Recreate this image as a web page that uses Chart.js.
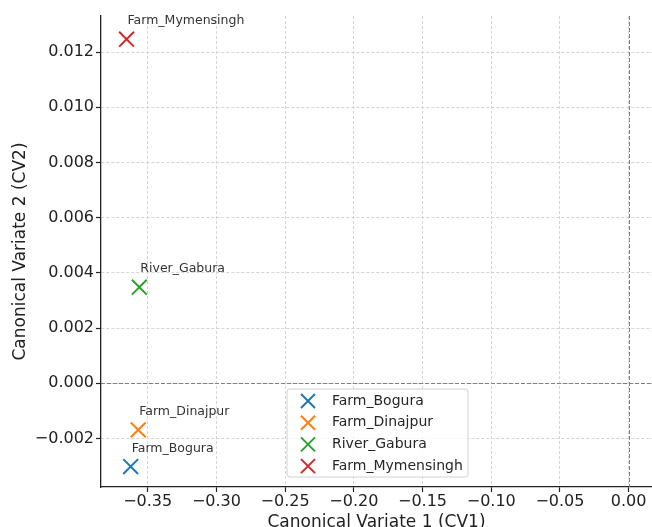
<!DOCTYPE html>
<html>
<head>
<meta charset="utf-8">
<script src="https://cdn.jsdelivr.net/npm/chart.js@4/dist/chart.umd.min.js"></script>
<style>
  html, body { margin: 0; padding: 0; background: #ffffff; }
  #wrap { width: 652px; height: 527px; }
</style>
</head>
<body>
<div id="wrap"><canvas id="c" width="652" height="527"></canvas></div>
<script>
// ---- data ----
const categories = ['Farm_Bogura', 'Farm_Dinajpur', 'River_Gabura', 'Farm_Mymensingh'];
const cv1Values = [-0.3624, -0.3569, -0.3561, -0.3654];
const cv2Values = [-0.00302, -0.00169, 0.00348, 0.01247];
const xTickValues = [-0.35, -0.30, -0.25, -0.20, -0.15, -0.10, -0.05, 0.00];
const yTickValues = [-0.002, 0.000, 0.002, 0.004, 0.006, 0.008, 0.010, 0.012];
const xAxisTitle = 'Canonical Variate 1 (CV1)';
const yAxisTitle = 'Canonical Variate 2 (CV2)';

// ---- styles ----
const seriesColors = ['#1f77b4', '#ff7f0e', '#2ca02c', '#d62728'];
const FONT = 'DejaVu Sans';
const fmt = (v, d) => (v < 0 ? '\u2212' : '') + Math.abs(v).toFixed(d);

const datasets = categories.map((name, i) => ({
  label: name,
  data: [{ x: cv1Values[i], y: cv2Values[i] }],
  pointStyle: 'crossRot',
  pointRadius: 10.5,
  pointHoverRadius: 10.5,
  borderWidth: 2,
  borderColor: seriesColors[i],
  backgroundColor: seriesColors[i]
}));

const overlay = {
  id: 'overlay',
  beforeDatasetsDraw(chart) {
    const { ctx, chartArea: a, scales: { x, y } } = chart;
    ctx.save();
    ctx.strokeStyle = '#808080';
    ctx.lineWidth = 1;
    ctx.setLineDash([4, 2]);
    const x0 = Math.round(x.getPixelForValue(0)) + 0.5;
    const y0 = Math.round(y.getPixelForValue(0)) + 0.5;
    ctx.beginPath();
    ctx.moveTo(x0, a.top); ctx.lineTo(x0, a.bottom);
    ctx.moveTo(a.left, y0); ctx.lineTo(a.right, y0);
    ctx.stroke();
    ctx.restore();
  },
  afterDatasetsDraw(chart) {
    const { ctx, scales: { x, y } } = chart;
    ctx.save();
    // point annotations
    ctx.font = '12.5px "' + FONT + '"';
    ctx.fillStyle = '#333333';
    ctx.textAlign = 'left';
    ctx.textBaseline = 'middle';
    categories.forEach((name, i) => {
      const px = x.getPixelForValue(cv1Values[i]);
      const py = y.getPixelForValue(cv2Values[i]);
      ctx.fillText(name, px + 1, py - 18);
    });
    // legend
    const bx = 287, by = 389, bw = 181, bh = 88, r = 3;
    ctx.beginPath();
    ctx.moveTo(bx + r, by);
    ctx.arcTo(bx + bw, by, bx + bw, by + bh, r);
    ctx.arcTo(bx + bw, by + bh, bx, by + bh, r);
    ctx.arcTo(bx, by + bh, bx, by, r);
    ctx.arcTo(bx, by, bx + bw, by, r);
    ctx.closePath();
    ctx.fillStyle = 'rgba(255,255,255,0.8)';
    ctx.fill();
    ctx.strokeStyle = '#d0d0d0';
    ctx.lineWidth = 1;
    ctx.stroke();
    ctx.font = '14px "' + FONT + '"';
    categories.forEach((name, i) => {
      const ry = 401 + i * 21.7;
      const mx = 308, s = 7;
      ctx.strokeStyle = seriesColors[i];
      ctx.lineWidth = 2;
      ctx.beginPath();
      ctx.moveTo(mx - s, ry - s); ctx.lineTo(mx + s, ry + s);
      ctx.moveTo(mx - s, ry + s); ctx.lineTo(mx + s, ry - s);
      ctx.stroke();
      ctx.fillStyle = '#262626';
      ctx.fillText(name, 332, ry);
    });
    ctx.restore();
  }
};

new Chart(document.getElementById('c'), {
  type: 'scatter',
  data: { datasets },
  plugins: [overlay],
  options: {
    responsive: false,
    animation: false,
    devicePixelRatio: 1,
    layout: { autoPadding: false, padding: { top: 16, right: 0, bottom: 0, left: 0 } },
    plugins: { legend: { display: false }, tooltip: { enabled: false } },
    scales: {
      x: {
        type: 'linear',
        min: -0.384,
        max: 0.017,
        afterBuildTicks: (s) => { s.ticks = xTickValues.map(v => ({ value: v })); },
        afterFit: (s) => { s.height = 40; s.paddingRight = 0; s.paddingLeft = 0; },
        ticks: {
          includeBounds: false,
          autoSkip: false,
          maxRotation: 0,
          padding: 0,
          color: '#222222',
          font: { family: FONT, size: 16 },
          callback: (v) => fmt(v, 2)
        },
        grid: {
          color: '#d0d0d0',
          lineWidth: 0.9,
          tickLength: 5,
          tickColor: '#222222',
          tickWidth: 1.2,
          tickBorderDash: []
        },
        border: { color: '#222222', width: 1.3, dash: [3, 2] },
        title: {
          display: true,
          text: xAxisTitle,
          color: '#222222',
          font: { family: FONT, size: 17 },
          padding: { top: 0, bottom: -5.5 }
        }
      },
      y: {
        type: 'linear',
        min: -0.00376,
        max: 0.01331,
        afterBuildTicks: (s) => { s.ticks = yTickValues.map(v => ({ value: v })); },
        afterFit: (s) => { s.width = 101; s.paddingTop = 0; s.paddingBottom = 0; },
        ticks: {
          includeBounds: false,
          autoSkip: false,
          padding: 2,
          color: '#222222',
          font: { family: FONT, size: 16 },
          callback: (v) => fmt(v, 3)
        },
        grid: {
          color: '#d0d0d0',
          lineWidth: 0.9,
          tickLength: 5,
          tickColor: '#222222',
          tickWidth: 1.2,
          tickBorderDash: []
        },
        border: { color: '#222222', width: 1.3, dash: [3, 2] },
        title: {
          display: true,
          text: yAxisTitle,
          color: '#222222',
          font: { family: FONT, size: 17 },
          padding: { top: 10, bottom: 0 }
        }
      }
    }
  }
});
</script>
</body>
</html>
